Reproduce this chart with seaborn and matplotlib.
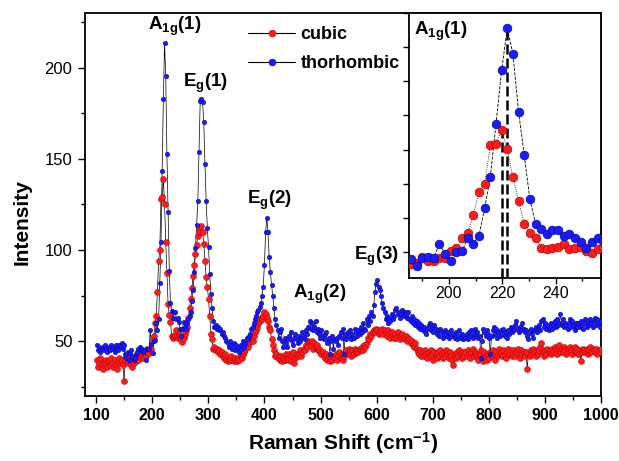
import numpy as np
import pandas as pd
import matplotlib
matplotlib.use("Agg")
import matplotlib.pyplot as plt
from matplotlib.lines import Line2D
from matplotlib.ticker import MultipleLocator, NullFormatter
import seaborn as sns

# Raman spectra (uniform sampling grid)
start_shift = 101.0
step_shift = 2.12

thorhombic = [
    48, 45, 47, 44, 46, 47, 45, 48, 46, 44,
    47, 45, 48, 46, 47, 44, 48, 46, 45, 48,
    47, 49, 46, 48, 43, 41, 44, 40, 43, 45,
    42, 40, 41, 43, 44, 46, 47, 45, 46, 44,
    45, 40, 45.5, 46, 45.5, 56, 48.6, 43.4, 50, 50.7,
    60, 56, 62, 82, 104.6, 143.4, 183, 213.7, 195.3, 152.7,
    121, 88.7, 70.8, 66.7, 63, 66, 66, 62, 63, 60.5,
    57, 53, 57, 60.5, 58, 57, 60, 62, 64, 66,
    72, 78, 88, 101, 114, 127, 154, 182, 183, 181,
    170, 147, 127, 112, 101.5, 87, 76, 68, 61, 58,
    59, 57, 58, 56, 57, 54, 55, 53, 52, 50,
    49, 47, 50, 48, 46, 49, 45, 48, 46, 47,
    44, 48, 46, 50, 47, 49, 52, 51, 53, 54,
    57, 58, 60, 62, 64, 66, 67, 69, 71, 75,
    80, 92, 110, 117.5, 110, 96, 88, 81, 75, 68,
    62, 59, 56, 52, 55, 57, 50, 47, 52, 49,
    47, 51, 53, 55, 50, 48, 52, 54, 51, 49,
    53, 50, 52, 55, 53, 51, 56, 54, 58, 61,
    57, 60, 56, 58, 61, 55, 57, 54, 52, 56,
    53, 51, 54, 55, 49, 52, 43, 50, 53, 46,
    51, 50, 52, 48, 53, 55, 52, 57, 43, 54,
    51, 55, 53, 56, 51, 54, 52, 57, 55, 53,
    56, 54, 58, 55, 60, 57, 56, 62, 59, 64,
    61, 66, 64, 70, 77, 81.6, 83.4, 80, 78, 75,
    71, 68, 66, 62, 64, 60, 63, 61, 65, 62,
    64, 67, 68, 65, 66, 63, 65, 67, 64, 66,
    65, 63, 66, 62, 61, 64, 60, 62, 59, 61,
    58, 60, 57, 59, 56, 58, 55, 54, 57, 59,
    60, 56, 58, 55, 59, 57, 54, 56, 53, 57,
    55, 52, 54, 56, 53, 55, 52, 54, 56, 53,
    54, 52, 55, 51, 53, 56, 52, 54, 51, 53,
    52, 54, 51, 55, 53, 56, 52, 54, 57, 53,
    55, 52, 53, 41, 50, 57, 55, 53, 56, 54,
    52, 43, 53, 56, 58, 54, 57, 52, 55, 53,
    56, 54, 57, 53, 55, 52, 56, 54, 58, 55,
    57, 56, 59, 61, 57, 55, 58, 56, 60, 57,
    55, 56, 53, 51, 55, 57, 54, 52, 56, 58,
    55, 57, 59, 56, 61, 62, 58, 60, 57, 59,
    56, 58, 60, 57, 59, 61, 58, 62, 59, 60,
    65, 59, 62, 58, 60, 59, 57, 60, 62, 58,
    61, 59, 56, 60, 58, 60, 58, 61, 59, 57,
    60, 62, 58, 61, 59, 62, 60, 58, 61, 63,
    59, 62, 60, 58, 61,
]

cubic = [
    40, 36, 38, 41, 37, 35, 39, 38, 40, 36,
    39, 37, 41, 38, 36, 40, 37, 35, 39, 41,
    38, 40, 37, 28, 40, 42, 38, 41, 39, 37,
    36, 38, 41, 39, 42, 40, 43, 41, 43, 42,
    41, 42, 46, 43.4, 43.4, 45.8, 45.8, 50.7, 53, 60,
    63.7, 77, 94, 100, 128, 129, 139, 125.5, 104.6, 87.5,
    70.4, 64.2, 60.5, 52.7, 52, 52.7, 53.6, 56, 52, 53,
    53.6, 50.7, 49.5, 52, 54, 56, 58, 63, 68, 73,
    79, 86, 92, 98, 103, 108, 111, 110, 113, 110,
    103.5, 94, 85, 79.7, 73.4, 64, 54, 51.5, 46, 47,
    45, 46, 44, 45, 43, 44, 42, 41, 43, 40,
    39, 41, 40, 42, 40, 39, 41, 40, 39, 41,
    40, 42, 41, 43, 44, 46, 48, 47, 49, 50,
    51, 50, 53, 55, 56, 58, 60, 61, 63, 62,
    64, 66, 65, 63, 61, 58, 56, 51, 48, 45,
    42, 43, 41, 42, 40, 42, 39, 41, 40, 43,
    41, 40, 43, 39, 42, 44, 38, 41, 43, 42,
    43, 45, 42, 44, 46, 45, 48, 47, 50, 49,
    48, 50, 46, 49, 47, 48, 45, 46, 44, 43,
    44, 42, 41, 43, 40, 42, 39, 41, 40, 42,
    41, 43, 40, 42, 44, 41, 43, 40, 42, 44,
    45, 43, 46, 44, 42, 45, 43, 46, 44, 45,
    44, 46, 45, 47, 45, 48, 47, 49, 52, 51,
    54, 53, 55, 56, 55, 57, 56, 54, 56, 55,
    57, 54, 56, 55, 53, 56, 54, 52, 55, 53,
    52, 54, 52, 55, 53, 51, 53, 54, 52, 51,
    53, 50, 52, 51, 49, 50, 48, 47, 49, 46,
    44, 43, 45, 42, 44, 42, 45, 43, 41, 44,
    42, 45, 43, 40, 44, 43, 41, 44, 42, 45,
    43, 41, 44, 42, 45, 43, 41, 44, 42, 40,
    37, 43, 41, 44, 42, 45, 43, 41, 44, 42,
    44, 42, 45, 43, 41, 44, 46, 42, 44, 43,
    42, 40, 43, 45, 41, 39, 44, 42, 40, 43,
    41, 44, 42, 45, 43, 40, 44, 42, 46, 43,
    44, 42, 45, 43, 41, 44, 46, 43, 45, 42,
    43, 45, 42, 44, 46, 43, 41, 45, 43, 44,
    42, 44, 35, 43, 42, 45, 43, 46, 44, 42,
    45, 43, 45, 47, 49, 44, 42, 45, 43, 46,
    44, 45, 43, 46, 44, 47, 45, 43, 46, 48,
    44, 46, 44, 47, 45, 43, 46, 44, 47, 45,
    43, 45, 47, 44, 46, 43, 45, 39, 44, 46,
    45, 44, 46, 43, 45, 47, 44, 46, 45, 44,
    46, 43, 45, 44, 46,
]

# peak labels: (text, x, y) in data units of the main axes
peak_labels = [
    ("A$_{\\mathbf{1g}}$(1)", 193, 220.5),
    ("E$_{\\mathbf{g}}$(1)", 255, 189.5),
    ("E$_{\\mathbf{g}}$(2)", 369, 125.5),
    ("A$_{\\mathbf{1g}}$(2)", 451, 73.5),
    ("E$_{\\mathbf{g}}$(3)", 560, 94.5),
]

assert len(cubic) == len(thorhombic)
shift = start_shift + step_shift * np.arange(len(cubic))
df = pd.DataFrame({"shift": shift, "cubic": cubic, "thorhombic": thorhombic})

sns.set_style("ticks")
plt.rcParams["font.family"] = ["Liberation Sans", "DejaVu Sans"]
plt.rcParams["mathtext.fontset"] = "custom"
plt.rcParams["mathtext.rm"] = "Liberation Sans"
plt.rcParams["mathtext.bf"] = "Liberation Sans:bold"
plt.rcParams["mathtext.it"] = "Liberation Sans:italic"
for key in ["text.color", "axes.labelcolor", "xtick.color", "ytick.color", "axes.edgecolor"]:
    plt.rcParams[key] = "black"

series = [("cubic", "#ff1a1a", "#a00000", 19), ("thorhombic", "#1a1aff", "#00008b", 11)]

fig = plt.figure(figsize=(6.19, 4.61), dpi=100)
ax = fig.add_axes([0.1373, 0.141, 0.8336, 0.8308])

for name, col, edge, size in series:
    sns.lineplot(data=df, x="shift", y=name, ax=ax, color="black", lw=0.5, zorder=2)
    sns.scatterplot(data=df, x="shift", y=name, ax=ax, color=col, edgecolor=edge,
                    linewidth=0.3, s=size, zorder=3)

ax.set_xlim(80, 1000)
ax.set_ylim(20, 230)
ax.xaxis.set_major_locator(MultipleLocator(100))
ax.xaxis.set_minor_locator(MultipleLocator(50))
ax.yaxis.set_major_locator(MultipleLocator(50))
ax.yaxis.set_minor_locator(MultipleLocator(25))
ax.set_yticks([50, 100, 150, 200])
ax.tick_params(which="major", direction="out", length=5, width=1, labelsize=11.5, pad=4)
ax.tick_params(which="minor", direction="out", length=3, width=1)
ax.tick_params(axis="y", labelsize=12)
for lab in ax.get_xticklabels():
    lab.set_fontweight("bold")
for sp in ax.spines.values():
    sp.set_linewidth(1.3)
    sp.set_visible(True)

ax.set_xlabel("Raman Shift (cm$^{\\mathbf{-1}}$)", fontsize=15, fontweight="bold")
ax.set_ylabel("Intensity", fontsize=15, fontweight="bold")
ax.xaxis.set_label_coords(0.5, -0.09)
ax.yaxis.set_label_coords(-0.103, 0.454)

for txt, x, y in peak_labels:
    ax.text(x, y, txt, fontsize=13.5, fontweight="bold", ha="left", va="baseline")

handles = [Line2D([0], [0], color="black", lw=0.8, marker="o", markersize=5,
                  markerfacecolor=col, markeredgecolor=edge, markeredgewidth=0.3)
           for _, col, edge, _ in series]
ax.legend(handles, [s[0] for s in series], loc="upper left", bbox_to_anchor=(0.316, 0.965),
          frameon=False, prop={"weight": "bold", "size": 13}, handlelength=2.6,
          labelspacing=0.65, handletextpad=0.3, borderpad=0, borderaxespad=0)

# inset: zoom on A1g(1)
axin = fig.add_axes([0.6607, 0.397, 0.3103, 0.5748])
axin.set_facecolor("white")
zoom = df[(df["shift"] > 180) & (df["shift"] < 262)]
styles = {"cubic": ":", "thorhombic": "--"}
for name, col, edge, size in series:
    sns.lineplot(data=zoom, x="shift", y=name, ax=axin, color="black", lw=0.6,
                 linestyle=styles[name], zorder=2)
    sns.scatterplot(data=zoom, x="shift", y=name, ax=axin, color=col, edgecolor=edge,
                    linewidth=0.4, s=40, zorder=3)
    peak = zoom.loc[zoom[name].idxmax()]
    axin.vlines(peak["shift"], 31, peak[name], colors="black", lw=1.8,
                linestyles=(0, (4, 1.6)), zorder=2.5)

axin.set_xlim(185, 257)
axin.set_ylim(31, 225)
axin.xaxis.set_major_locator(MultipleLocator(20))
axin.xaxis.set_minor_locator(MultipleLocator(10))
axin.yaxis.set_major_locator(MultipleLocator(25))
axin.yaxis.set_major_formatter(NullFormatter())
axin.tick_params(which="major", direction="out", length=4, width=1, labelsize=11.5, pad=2)
axin.tick_params(which="minor", direction="out", length=2.5, width=1)
axin.set_xlabel("")
axin.set_ylabel("")
for sp in axin.spines.values():
    sp.set_linewidth(1.3)
    sp.set_visible(True)
axin.text(0.026, 0.917, "A$_{\\mathbf{1g}}$(1)", transform=axin.transAxes,
          fontsize=13.5, fontweight="bold", ha="left", va="baseline")

fig.savefig("out.png", dpi=100)
